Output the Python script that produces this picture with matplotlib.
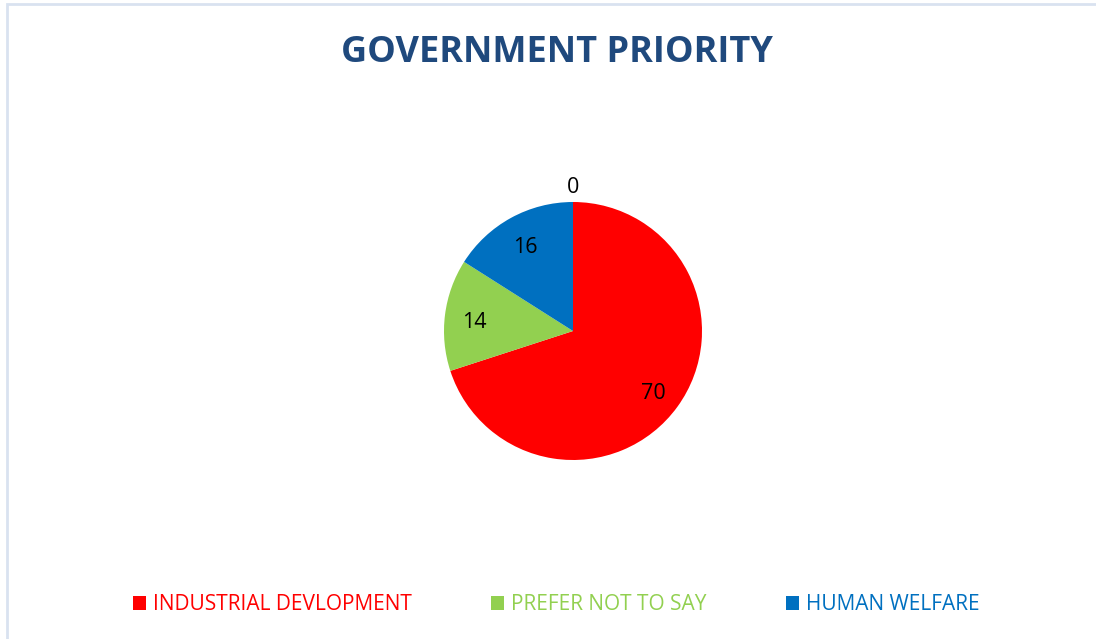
import numpy as np
import matplotlib.pyplot as plt
from matplotlib.patches import Rectangle, Patch

# data
categories = ['INDUSTRIAL DEVLOPMENT', 'PREFER NOT TO SAY', 'HUMAN WELFARE', '']
values = [70, 14, 16, 0]
colors = ['#ff0000', '#92d050', '#0070c0', '#a5a5a5']
title = 'GOVERNMENT PRIORITY'

plt.rcParams['font.family'] = ['Open Sans', 'DejaVu Sans']

W, H = 1096, 639
fig = plt.figure(figsize=(W/100, H/100), dpi=100)

# light chart-area border (extends off the right/bottom edge)
fig.patches.append(Rectangle((7/W, -0.1), 1.2, (H-4)/H + 0.1, transform=fig.transFigure,
                             fill=False, ec='#d9e2f0', lw=2))

cx, cy, r = 573, 331, 129
ax = fig.add_axes([(cx-r)/W, (H-cy-r)/H, 2*r/W, 2*r/H])
wedges, texts = ax.pie(values, colors=colors, startangle=90, counterclock=False,
                       radius=1, wedgeprops=dict(linewidth=0))
ax.set_xlim(-1, 1)
ax.set_ylim(-1, 1)
ax.axis('off')

# data labels
for w, v in zip(wedges, values):
    mid = np.deg2rad((w.theta1 + w.theta2) / 2)
    d = 0.77 if v > 0 else 1.14
    ax.text(d*np.cos(mid), d*np.sin(mid) - 0.03, str(v), ha='center', va='center',
            fontsize=15.5, color='black', clip_on=False)

fig.text(556.5/W, 1 - 53/H, title, ha='center', va='center', fontsize=26,
         fontweight='bold', color='#1f497d')

handles = [Patch(facecolor=c, edgecolor='none') for c in colors[:3]]
fig.legend(handles, categories[:3], loc='center', bbox_to_anchor=(556/W, 1 - 605/H),
           ncol=3, frameon=False, fontsize=15, labelcolor=colors[:3],
           handlelength=0.63, handleheight=0.63, handletextpad=0.34, columnspacing=3.8)

fig.savefig('out.png', dpi=100)
